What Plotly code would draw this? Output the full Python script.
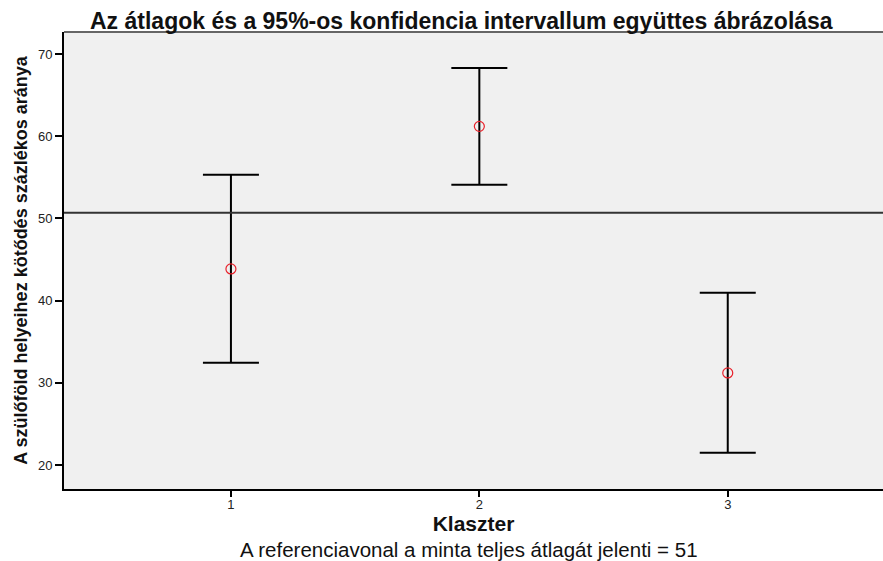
import plotly.graph_objects as go

clusters = [1, 2, 3]
means = [43.85, 61.2, 31.2]
upper = [55.3, 68.3, 40.95]
lower = [32.45, 54.1, 21.5]
ref_mean = 50.7
y_ticks = [20, 30, 40, 50, 60, 70]

err_plus = [u - m for u, m in zip(upper, means)]
err_minus = [m - l for m, l in zip(means, lower)]

FONT = "Liberation Sans, Arial, sans-serif"

fig = go.Figure()
fig.add_trace(go.Scatter(
    x=clusters, y=means, mode="markers",
    marker=dict(symbol="circle-open", size=10, color="#e8202a", line=dict(width=1.2)),
    error_y=dict(type="data", symmetric=False, array=err_plus, arrayminus=err_minus,
                 color="black", thickness=2, width=28),
    showlegend=False,
))

fig.add_shape(type="line", xref="paper", yref="y", x0=0, x1=1, y0=ref_mean, y1=ref_mean,
              line=dict(color="#333333", width=2))
fig.add_shape(type="line", xref="paper", yref="paper", x0=0, x1=1, y0=1, y1=1,
              line=dict(color="#666666", width=2))

fig.update_layout(
    width=883, height=561,
    margin=dict(l=64, r=0, t=32, b=72),
    paper_bgcolor="white", plot_bgcolor="#f0f0f0",
    font=dict(family=FONT, color="#111111"),
    xaxis=dict(range=[0.328, 3.625], tickvals=clusters, ticktext=[str(c) for c in clusters],
               showgrid=False, zeroline=False, showline=True, linecolor="black", linewidth=2,
               ticks="outside", ticklen=6, tickwidth=2, tickcolor="black", ticklabelstandoff=-4,
               tickfont=dict(size=13, color="#222222"),
               title=dict(text="<b>Klaszter</b>", font=dict(size=21, color="#111111"), standoff=2)),
    yaxis=dict(range=[17.08, 72.68], tickvals=y_ticks,
               showgrid=False, zeroline=False, showline=True, linecolor="black", linewidth=2,
               ticks="outside", ticklen=7, tickwidth=2, tickcolor="black",
               tickfont=dict(size=13, color="#222222"),
               title=dict(text="<b>A szülőföld helyeihez kötődés százlékos aránya</b>",
                          font=dict(size=18, color="#111111"), standoff=6)),
)

fig.add_annotation(text="<b>Az átlagok és a 95%-os konfidencia intervallum együttes ábrázolása</b>",
                   xref="paper", yref="paper", x=(88 - 64) / 819, y=1, xanchor="left", yanchor="bottom",
                   yshift=-4, showarrow=False, font=dict(size=23, color="#111111"))
fig.add_annotation(text="A referenciavonal a minta teljes átlagát jelenti = 51",
                   xref="paper", yref="paper", x=(469 - 64) / 819, y=0, xanchor="center", yanchor="top",
                   yshift=-47, showarrow=False, font=dict(size=20.5, color="#111111"))

fig.write_html("out.html", config={"displayModeBar": False},
               post_script="document.body.style.margin='0';document.body.style.overflow='hidden';")
